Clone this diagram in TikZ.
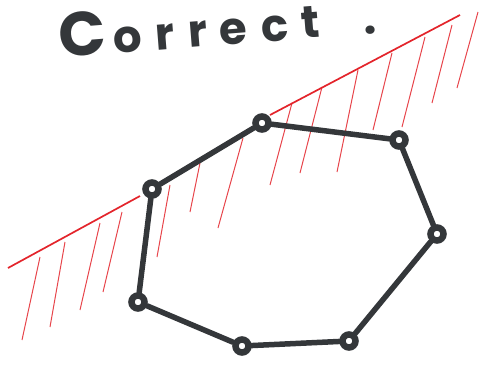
\documentclass[tikz,border=0pt]{standalone}
\usepackage{fontspec}
\setmainfont{Poppins}
\definecolor{ink}{HTML}{34373A}
\definecolor{redink}{HTML}{E3242B}
\begin{document}
\begin{tikzpicture}[x=1pt,y=-1pt,
  joint/.style={circle,draw=ink,fill=white,line width=6.5pt,minimum size=13pt,inner sep=0pt},
  link/.style={draw=ink,line width=5.5pt,line cap=round},
  redline/.style={draw=redink,line width=1.7pt},
  hatch/.style={draw=redink,line width=1pt,opacity=0.85}]
\useasboundingbox (0,0) rectangle (482,370);
% red ground line
\draw[redline] (8,268) -- (140,196);
\draw[redline] (270,115) -- (460,15);
% hatches
\foreach \a/\b in {{40,257}/{22,340},{65,242}/{50,327},{100,223}/{80,310},{122,212}/{103,292},
  {170,185}/{157,257},{200,163}/{190,212},{243,138}/{218,228},
  {292,103}/{270,185},{322,87}/{300,173},{358,70}/{337,172},{392,53}/{373,130},
  {425,37}/{402,127},{452,25}/{432,103},{478,12}/{457,88}}
  \draw[hatch] (\a) -- (\b);
% text
\node[anchor=base west,rotate=4.5,text=ink,inner sep=0pt,font=\bfseries\fontsize{45}{45}\selectfont] (title) at (60,58)
  {{\fontsize{62}{62}\selectfont C}\kern7pt o\kern14pt r\kern14pt r\kern11pt e\kern15pt c\kern13pt t\kern44pt .};
% joints
\node[joint] (A) at (262,123) {};
\node[joint] (B) at (399,140) {};
\node[joint] (C) at (437,234) {};
\node[joint] (D) at (349,341) {};
\node[joint] (E) at (242,346) {};
\node[joint] (F) at (138,302) {};
\node[joint] (G) at (152,189) {};
% links
\foreach \p/\q in {A/B,B/C,C/D,D/E,E/F,F/G,G/A}
  \draw[link] (\p) -- (\q);
\end{tikzpicture}
\end{document}
